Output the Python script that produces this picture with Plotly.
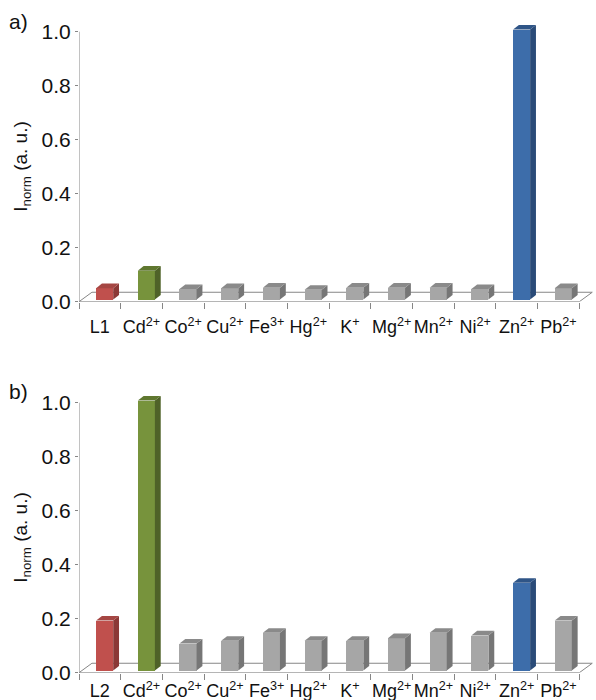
import plotly.graph_objects as go
from plotly.subplots import make_subplots

# ---------------- data ----------------
labels_a = ["L1", "Cd<sup>2+</sup>", "Co<sup>2+</sup>", "Cu<sup>2+</sup>", "Fe<sup>3+</sup>", "Hg<sup>2+</sup>",
            "K<sup>+</sup>", "Mg<sup>2+</sup>", "Mn<sup>2+</sup>", "Ni<sup>2+</sup>", "Zn<sup>2+</sup>", "Pb<sup>2+</sup>"]
labels_b = ["L2"] + labels_a[1:]
values_a = [0.042, 0.107, 0.039, 0.042, 0.044, 0.036, 0.044, 0.044, 0.044, 0.039, 1.0, 0.042]
values_b = [0.185, 1.0, 0.10, 0.11, 0.14, 0.11, 0.11, 0.12, 0.14, 0.13, 0.325, 0.185]
y_ticks = [0.0, 0.2, 0.4, 0.6, 0.8, 1.0]

# colour scheme (front, side, top)
RED = ("#C0504D", "#8B3836", "#A54643")
GREEN = ("#77933C", "#4F6228", "#5F772F")
BLUE = ("#3D6DAA", "#2A4B78", "#2F5587")
GRAY = ("#A6A6A6", "#767676", "#8A8A8A")
colors = [RED, GREEN] + [GRAY] * 8 + [BLUE, GRAY]

# 3D look parameters (in axis units)
BAR_OFF = 0.615   # front face centre inside category
BAR_W = 0.41
DX, DY = 0.14, 0.017      # bar depth
FDX, FDY = 0.31, 0.035    # floor depth
BASE = 0.008
AXC = "#868686"
FONT = "Liberation Sans, Arial, sans-serif"

fig = make_subplots(rows=2, cols=1, vertical_spacing=0.1)

def add_panel(values, labels, row, lab_len):
    n = len(values)
    xref = "x" if row == 1 else "x2"
    yref = "y" if row == 1 else "y2"
    # floor
    fl = dict(type="line", xref=xref, yref=yref, line=dict(color=AXC, width=1), layer="below")
    fig.add_shape(x0=0, y0=0, x1=n, y1=0, **fl)
    fig.add_shape(x0=0, y0=0, x1=FDX, y1=FDY, **fl)
    fig.add_shape(x0=FDX, y0=FDY, x1=n + FDX, y1=FDY, **fl)
    fig.add_shape(x0=n, y0=0, x1=n + FDX, y1=FDY, **fl)
    # y axis line
    fig.add_shape(type="line", xref=xref, yref=yref, x0=0, x1=0, y0=0, y1=1.0,
                  line=dict(color=AXC, width=1), layer="below")
    for i, v in enumerate(values):
        front, side, top = colors[i]
        xc = i + BAR_OFF
        a, b = xc - BAR_W / 2, xc + BAR_W / 2
        y0, y1 = BASE, BASE + v
        fig.add_trace(go.Bar(x=[xc], y=[v], base=[BASE], width=[BAR_W],
                             marker=dict(color=front, line=dict(width=0)),
                             cliponaxis=False, showlegend=False, hoverinfo="skip"), row=row, col=1)
        fig.add_trace(go.Scatter(x=[b, b + DX, b + DX, b, b], y=[y0, y0 + DY, y1 + DY, y1, y0],
                                 fill="toself", fillcolor=side, mode="lines", line=dict(width=0, color=side),
                                 showlegend=False, hoverinfo="skip"), row=row, col=1)
        fig.add_trace(go.Scatter(x=[a, b, b + DX, a + DX, a], y=[y1, y1, y1 + DY, y1 + DY, y1],
                                 fill="toself", fillcolor=top, mode="lines", line=dict(width=0, color=top),
                                 showlegend=False, hoverinfo="skip"), row=row, col=1)
    fig.update_xaxes(row=row, col=1, range=[0, n + FDX + 0.09], showline=False, showgrid=False, zeroline=False,
                     tickmode="array", tickvals=[i + 0.5 for i in range(n)], ticktext=labels,
                     ticks="outside", ticklen=lab_len, tickcolor="rgba(0,0,0,0)",
                     tickfont=dict(family=FONT, size=18, color="#111"),
                     minor=dict(tickmode="array", tickvals=list(range(n + 1)), ticks="outside",
                                ticklen=6, tickcolor=AXC, tickwidth=1, showgrid=False))
    fig.update_yaxes(row=row, col=1, range=[0, 1.04], showline=False, showgrid=False, zeroline=False,
                     tickmode="array", tickvals=y_ticks, ticktext=[f"{t:.1f}" for t in y_ticks],
                     ticks="outside", ticklen=3, tickcolor=AXC,
                     tickfont=dict(family=FONT, size=21, color="#111"))

add_panel(values_a, labels_a, 1, 9)
add_panel(values_b, labels_b, 2, 2)

# positions: y=0 at 301.7px / 672.7px, y=1 at 31.7px / 402.7px (700px tall)
H = 700.0
def dom(px0, px1):
    return [1 - px0 / H, 1 - px1 / H]

top_px_a = 31.7 - 0.04 * 270
top_px_b = 402.7 - 0.04 * 270
fig.update_layout(
    width=596, height=700,
    margin=dict(l=79, r=0, t=0, b=0, autoexpand=False),
    paper_bgcolor="white", plot_bgcolor="white",
    barmode="overlay", bargap=0,
    yaxis=dict(domain=dom(301.7, top_px_a)),
    yaxis2=dict(domain=dom(672.7, top_px_b)),
    xaxis=dict(domain=[0, 1]), xaxis2=dict(domain=[0, 1]),
    font=dict(family=FONT, color="#111"),
)

# axis titles and panel labels
for yc in [(301.7 + 31.7) / 2, (672.7 + 402.7) / 2]:
    fig.add_annotation(xref="paper", yref="paper", x=-79 / 517 + 22 / 517, y=1 - yc / H,
                       text="I<sub>norm</sub> (a. u.)", textangle=-90, showarrow=False,
                       font=dict(family=FONT, size=19, color="#111"), xanchor="center", yanchor="middle")
py_lab = {"a)": 21, "b)": 391}
for lab, py in py_lab.items():
    fig.add_annotation(xref="paper", yref="paper", x=-79 / 517 + 7 / 517, y=1 - py / H,
                       text=lab, showarrow=False, font=dict(family=FONT, size=21, color="#111"),
                       xanchor="left", yanchor="middle")

fig.write_html("out.html")
